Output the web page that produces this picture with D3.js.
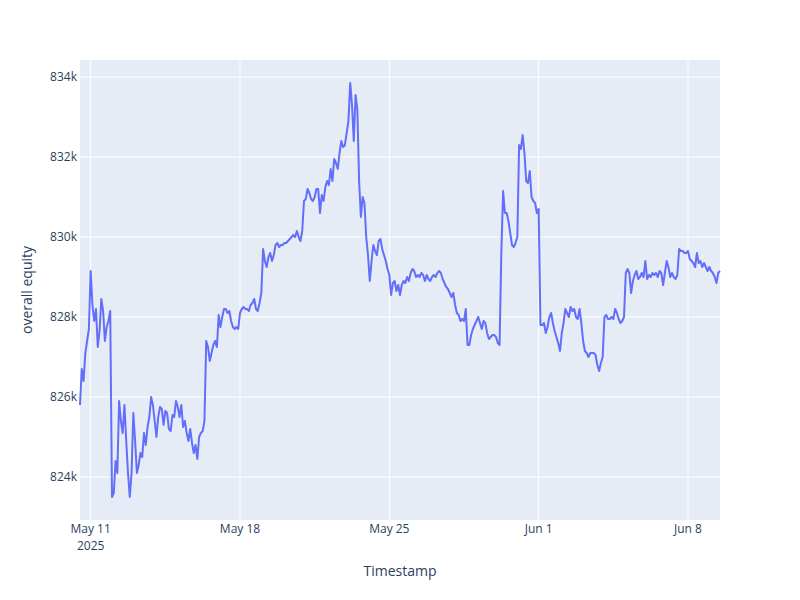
<!DOCTYPE html>
<html>
<head>
<meta charset="utf-8">
<script src="https://cdn.jsdelivr.net/npm/d3@7"></script>
<style>
  body { margin: 0; background: #fff; }
  svg text { font-family: "Open Sans", verdana, arial, sans-serif; fill: #2a3f5f; }
</style>
</head>
<body>
<svg id="chart" width="800" height="600"></svg>
<script>
// readings are every 2 hours starting May 10 2025, 12:00
const startTime = new Date(2025, 4, 10, 12, 0)
const stepHours = 2

// overall equity, in thousands
const equityK = [
  825.8, 826.7, 826.4, 827.1, 827.4, 827.7, 829.15, 828.3, 827.9, 828.2,
  827.25, 827.65, 828.45, 828.15, 827.4, 827.75, 827.9, 828.15, 823.5, 823.6,
  824.4, 824.1, 825.9, 825.4, 825.1, 825.8, 824.9, 824.1, 823.5, 824.1,
  825.6, 824.9, 824.1, 824.3, 824.6, 824.5, 825.1, 824.8, 825.25, 825.5,
  826.0, 825.8, 825.4, 825.0, 825.5, 825.75, 825.7, 825.3, 825.65, 825.6,
  825.2, 825.15, 825.55, 825.5, 825.9, 825.75, 825.5, 825.8, 825.25, 825.4,
  825.1, 824.9, 825.2, 824.85, 824.6, 824.8, 824.45, 825.0, 825.1, 825.15,
  825.4, 827.4, 827.25, 826.9, 827.1, 827.3, 827.4, 827.25, 828.05, 827.75,
  828.0, 828.2, 828.2, 828.1, 828.15, 827.9, 827.75, 827.7, 827.75, 827.7,
  828.1, 828.2, 828.25, 828.2, 828.2, 828.15, 828.3, 828.35, 828.45, 828.2,
  828.15, 828.35, 828.6, 829.7, 829.4, 829.25, 829.5, 829.6, 829.4, 829.55,
  829.8, 829.85, 829.75, 829.8, 829.8, 829.85, 829.85, 829.9, 829.95, 830.0,
  830.05, 830.0, 830.15, 830.0, 829.9, 830.15, 830.9, 830.95, 831.2, 831.1,
  830.95, 830.9, 831.0, 831.2, 831.2, 830.6, 831.05, 830.9, 831.25, 831.4,
  831.3, 831.7, 831.4, 831.95, 831.85, 831.7, 832.1, 832.4, 832.25, 832.3,
  832.6, 832.9, 833.85, 833.3, 832.4, 833.55, 833.2, 831.4, 830.5, 831.0,
  830.85, 830.0, 829.55, 828.9, 829.4, 829.8, 829.65, 829.55, 829.9, 829.95,
  829.7, 829.55, 829.4, 829.2, 829.05, 828.55, 828.85, 828.9, 828.65, 828.8,
  828.55, 828.8, 828.9, 828.85, 829.0, 828.9, 829.1, 829.2, 829.15, 829.0,
  829.05, 829.0, 829.1, 829.05, 828.9, 829.05, 828.95, 828.9, 829.0, 829.05,
  829.0, 829.1, 829.15, 829.1, 828.95, 828.85, 828.75, 828.7, 828.6, 828.5,
  828.6, 828.3, 828.1, 828.05, 827.9, 827.95, 827.9, 828.2, 827.3, 827.3,
  827.55, 827.7, 827.8, 827.9, 828.0, 827.85, 827.7, 827.9, 827.85, 827.6,
  827.45, 827.5, 827.55, 827.55, 827.5, 827.35, 827.3, 829.6, 831.15, 830.6,
  830.6, 830.4, 830.1, 829.8, 829.75, 829.85, 830.0, 832.3, 832.2, 832.55,
  832.1, 831.4, 831.35, 831.65, 831.0, 830.9, 830.85, 830.6, 830.7, 827.8,
  827.8, 827.85, 827.6, 827.75, 828.0, 828.1, 827.85, 827.65, 827.5, 827.35,
  827.15, 827.6, 827.85, 828.2, 828.1, 828.0, 828.25, 828.15, 828.2, 828.0,
  827.95, 828.2, 827.85, 827.4, 827.15, 827.1, 827.0, 827.1, 827.1, 827.1,
  827.05, 826.8, 826.65, 826.85, 827.0, 828.0, 828.05, 827.95, 827.95, 828.0,
  827.95, 828.2, 828.1, 827.95, 827.85, 827.9, 828.0, 829.1, 829.2, 829.1,
  828.6, 828.9, 829.05, 829.15, 828.95, 829.0, 829.1, 829.0, 829.4, 828.95,
  829.05, 829.0, 829.1, 829.05, 829.1, 829.0, 829.15, 829.1, 828.8, 829.1,
  829.4, 829.25, 829.0, 829.1, 829.0, 828.95, 829.05, 829.7, 829.65, 829.65,
  829.6, 829.6, 829.65, 829.45, 829.4, 829.35, 829.25, 829.6, 829.35, 829.4,
  829.25, 829.35, 829.25, 829.15, 829.25, 829.15, 829.1, 829.0, 828.85, 829.1,
  829.15
]

const yTicks = [824000, 826000, 828000, 830000, 832000, 834000]
const xTicks = [
  new Date(2025, 4, 11), new Date(2025, 4, 18), new Date(2025, 4, 25),
  new Date(2025, 5, 1), new Date(2025, 5, 8)
]

const data = equityK.map((v, i) => ({
  t: d3.timeHour.offset(startTime, i * stepHours),
  v: v * 1000
}))

const svg = d3.select('#chart')
const margin = { left: 80, right: 80, top: 60, bottom: 80 }
const W = 800, H = 600

// plotly-like autorange: lines span full x, y padded
const [vmin, vmax] = d3.extent(data, d => d.v)
const pad = (vmax - vmin) * 0.0556

const x = d3.scaleTime()
  .domain(d3.extent(data, d => d.t))
  .range([margin.left, W - margin.right])
const y = d3.scaleLinear()
  .domain([vmin - pad, vmax + pad])
  .range([H - margin.bottom, margin.top])

svg.append('rect')
  .attr('x', margin.left).attr('y', margin.top)
  .attr('width', W - margin.left - margin.right)
  .attr('height', H - margin.top - margin.bottom)
  .attr('fill', '#E5ECF6')

// grid
svg.append('g').selectAll('line').data(yTicks).join('line')
  .attr('x1', margin.left).attr('x2', W - margin.right)
  .attr('y1', d => y(d)).attr('y2', d => y(d))
  .attr('stroke', '#fff').attr('stroke-width', 1)
svg.append('g').selectAll('line').data(xTicks).join('line')
  .attr('y1', margin.top).attr('y2', H - margin.bottom)
  .attr('x1', d => x(d)).attr('x2', d => x(d))
  .attr('stroke', '#fff').attr('stroke-width', 1)

// line
const line = d3.line().x(d => x(d.t)).y(d => y(d.v))
svg.append('path')
  .datum(data)
  .attr('d', line)
  .attr('fill', 'none')
  .attr('stroke', '#636efa')
  .attr('stroke-width', 2)
  .attr('stroke-linejoin', 'round')

// y axis labels
svg.append('g').selectAll('text').data(yTicks).join('text')
  .attr('x', margin.left - 3)
  .attr('y', d => y(d))
  .attr('dy', '0.35em')
  .attr('text-anchor', 'end')
  .style('font-size', '12px')
  .text(d => d3.format('d')(d / 1000) + 'k')

// x axis labels
const fmt = d3.timeFormat('%b %-d')
const xl = svg.append('g').selectAll('text').data(xTicks).join('text')
  .attr('x', d => x(d))
  .attr('y', H - margin.bottom + 13)
  .attr('text-anchor', 'middle')
  .style('font-size', '12px')
xl.append('tspan').text(d => fmt(d))
xl.filter((d, i) => i === 0).append('tspan')
  .attr('x', d => x(d)).attr('dy', 17)
  .text(d => d.getFullYear())

// axis titles
svg.append('text')
  .attr('x', margin.left + (W - margin.left - margin.right) / 2)
  .attr('y', 576)
  .attr('text-anchor', 'middle')
  .style('font-size', '14px')
  .text('Timestamp')
svg.append('text')
  .attr('transform', `translate(32,${margin.top + (H - margin.top - margin.bottom) / 2}) rotate(-90)`)
  .attr('text-anchor', 'middle')
  .style('font-size', '14px')
  .text('overall equity')
</script>
</body>
</html>
